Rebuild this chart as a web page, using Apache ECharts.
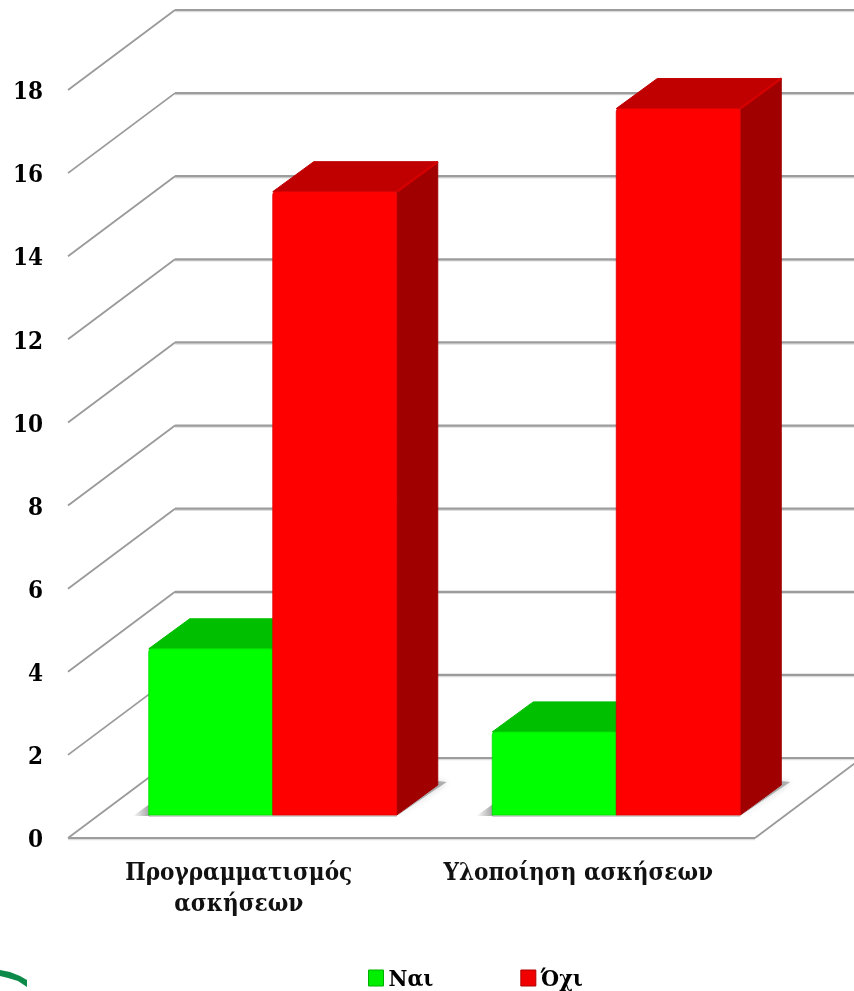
<!DOCTYPE html>
<html>
<head>
<meta charset="utf-8">
<style>html,body{margin:0;padding:0;background:#fff}#c{width:854px;height:991px}</style>
<script src="https://cdn.jsdelivr.net/npm/echarts@6/dist/echarts.min.js"></script>
</head>
<body>
<div id="c"></div>
<script>
const categories = ['Προγραμματισμός\nασκήσεων', 'Υλοποίηση ασκήσεων'];
const yesValues = [4, 2];
const noValues = [15, 17];
const gridValues = [0, 2, 4, 6, 8, 10, 12, 14, 16, 18];
const seriesNames = ['Ναι', 'Όχι'];

const FONT = '"DejaVu Serif Condensed","DejaVu Serif"';
const WALL_DX = 107, WALL_DY = -80;
const BAR_DX = 41, BAR_DY = -30;
const FLOOR_FX = 33, FLOOR_FY = -23;
const BAR_RATIO = 0.361;

function renderWall(params, api) {
  const cs = params.coordSys;
  const v = api.value(0);
  const y = api.coord([0, v])[1];
  const x0 = cs.x, xb = cs.x + WALL_DX, xe = cs.x + cs.width + WALL_DX;
  const children = [
    {type: 'line', shape: {x1: x0, y1: y, x2: xb, y2: y + WALL_DY}, style: {stroke: '#9a9a9a', lineWidth: 1.8}},
    {type: 'line', shape: {x1: xb, y1: y + WALL_DY + 1.5, x2: xe, y2: y + WALL_DY + 1.5}, style: {stroke: '#dddddd', lineWidth: 1.5}},
    {type: 'line', shape: {x1: xb, y1: y + WALL_DY, x2: xe, y2: y + WALL_DY}, style: {stroke: '#9c9c9c', lineWidth: 2.2}}
  ];
  if (v === 0) {
    const xr = cs.x + cs.width;
    children.push(
      {type: 'line', shape: {x1: x0, y1: y + 1.5, x2: xr, y2: y + 1.5}, style: {stroke: '#dddddd', lineWidth: 1.5}},
      {type: 'line', shape: {x1: x0, y1: y, x2: xr, y2: y}, style: {stroke: '#9c9c9c', lineWidth: 2.2}},
      {type: 'line', shape: {x1: xr, y1: y, x2: xe, y2: y + WALL_DY}, style: {stroke: '#9a9a9a', lineWidth: 1.8}}
    );
  }
  return {type: 'group', children};
}

function makeBar(colors, side) {
  return function (params, api) {
    const cat = api.value(0), val = api.value(1);
    const base = api.coord([cat, 0]);
    const top = api.coord([cat, val]);
    const w = api.size([1, 0])[0] * BAR_RATIO;
    const yb = base[1] + FLOOR_FY, yt = top[1] + FLOOR_FY;
    const xr = side === 'right' ? base[0] + FLOOR_FX + w : base[0] + FLOOR_FX;
    const xl = xr - w;
    const children = [];
    if (side === 'left') {
      children.push({type: 'polygon',
        shape: {points: [[xl - 16, yb + 1], [xl + 1, yb + 1], [xl + 1, yb - 11]]},
        style: {fill: {type: 'linear', x: 0, y: 0, x2: 1, y2: 0, colorStops: [
          {offset: 0, color: 'rgba(120,120,120,0)'}, {offset: 1, color: 'rgba(120,120,120,0.7)'}]}}});
    } else {
      children.push({type: 'polygon',
        shape: {points: [[xr, yb + 1], [xr + BAR_DX, yb + BAR_DY + 3], [xr + BAR_DX + 9, yb + BAR_DY - 3], [xr + BAR_DX, yb + BAR_DY - 4]]},
        style: {fill: 'rgba(120,120,120,0.55)', shadowBlur: 6, shadowColor: 'rgba(120,120,120,0.6)'}});
    }
    children.push({type: 'line', shape: {x1: xl, y1: yb + 1, x2: xr, y2: yb + 1},
      style: {stroke: 'rgba(150,150,150,0.6)', lineWidth: 1.5}});
    children.push(
      {type: 'polygon', shape: {points: [[xr, yt], [xr + BAR_DX, yt + BAR_DY], [xr + BAR_DX, yb + BAR_DY], [xr, yb]]},
        style: {fill: colors.side, stroke: colors.side, lineWidth: 1, lineJoin: 'round'}},
      {type: 'polygon', shape: {points: [[xl, yt], [xl + BAR_DX, yt + BAR_DY], [xr + BAR_DX, yt + BAR_DY], [xr, yt]]},
        style: {fill: colors.top, stroke: colors.top, lineWidth: 1, lineJoin: 'round'}},
      {type: 'line', shape: {x1: xr, y1: yt, x2: xr + BAR_DX, y2: yt + BAR_DY},
        style: {stroke: colors.edge, lineWidth: 2.5}},
      {type: 'rect', shape: {x: xl, y: yt, width: w, height: yb - yt, r: [3, 3, 0, 0]},
        style: {fill: colors.front, stroke: colors.edgeDark, lineWidth: 0.8}}
    );
    return {type: 'group', children};
  };
}

const red = {front: '#ff0000', top: '#c00000', side: '#a00000', edge: '#d40000', edgeDark: '#dd0000'};
const green = {front: '#00ff00', top: '#00bf00', side: '#00a000', edge: '#00d400', edgeDark: '#00dd00'};

const chart = echarts.init(document.getElementById('c'), null, {renderer: 'canvas', width: 854, height: 991});
chart.setOption({
  animation: false,
  backgroundColor: '#ffffff',
  grid: {left: 68, right: 99, top: 90, bottom: 153},
  legend: {
    left: 368, top: 969, padding: 0, itemWidth: 15, itemHeight: 16, itemGap: 87,
    icon: 'rect', selectedMode: false,
    formatter: name => '{t|' + name + '}',
    textStyle: {
      fontFamily: FONT, fontWeight: 'bold', fontSize: 23, color: '#000',
      rich: {t: {fontFamily: FONT, fontWeight: 'bold', fontSize: 23, color: '#000', padding: [5, 0, 0, 0]}}
    },
    data: [
      {name: seriesNames[0], itemStyle: {color: '#00ee00', borderColor: '#00b000', borderWidth: 1}},
      {name: seriesNames[1], itemStyle: {color: '#f00000', borderColor: '#b00000', borderWidth: 1}}
    ]
  },
  xAxis: {
    type: 'category',
    data: categories.map((c, i) => ({value: c, textStyle: {padding: i === 1 ? [0, 10, 0, 0] : [0, 2, 0, 0]}})),
    axisLine: {show: false}, axisTick: {show: false}, splitLine: {show: false},
    axisLabel: {margin: 20, interval: 0, fontFamily: FONT, fontWeight: 'bold', fontSize: 24, lineHeight: 31, color: '#111'}
  },
  yAxis: {
    type: 'value', min: 0, max: 18, interval: 2,
    axisLine: {show: false}, axisTick: {show: false}, splitLine: {show: false},
    axisLabel: {
      margin: 25, formatter: '{t|{value}}',
      rich: {t: {fontFamily: FONT, fontWeight: 'bold', fontSize: 24, color: '#000', padding: [6, 0, 0, 0]}}
    }
  },
  series: [
    {name: 'wall', type: 'custom', silent: true, clip: false, z: 1, renderItem: renderWall,
      encode: {y: 0}, data: gridValues.map(v => [v])},
    {name: seriesNames[0], type: 'custom', silent: true, clip: false, z: 2, renderItem: makeBar(green, 'left'),
      itemStyle: {color: '#00ee00'}, encode: {x: 0, y: 1}, data: yesValues.map((v, i) => [i, v])},
    {name: seriesNames[1], type: 'custom', silent: true, clip: false, z: 3, renderItem: makeBar(red, 'right'),
      itemStyle: {color: '#f00000'}, encode: {x: 0, y: 1}, data: noValues.map((v, i) => [i, v])}
  ],
  graphic: [{type: 'polygon', silent: true, shape: {points: [[0, 970], [10, 972], [20, 976], [27, 980], [27, 987], [18, 981], [8, 978], [0, 976]]}, style: {fill: '#0b8a4a'}}]
});
</script>
</body>
</html>
